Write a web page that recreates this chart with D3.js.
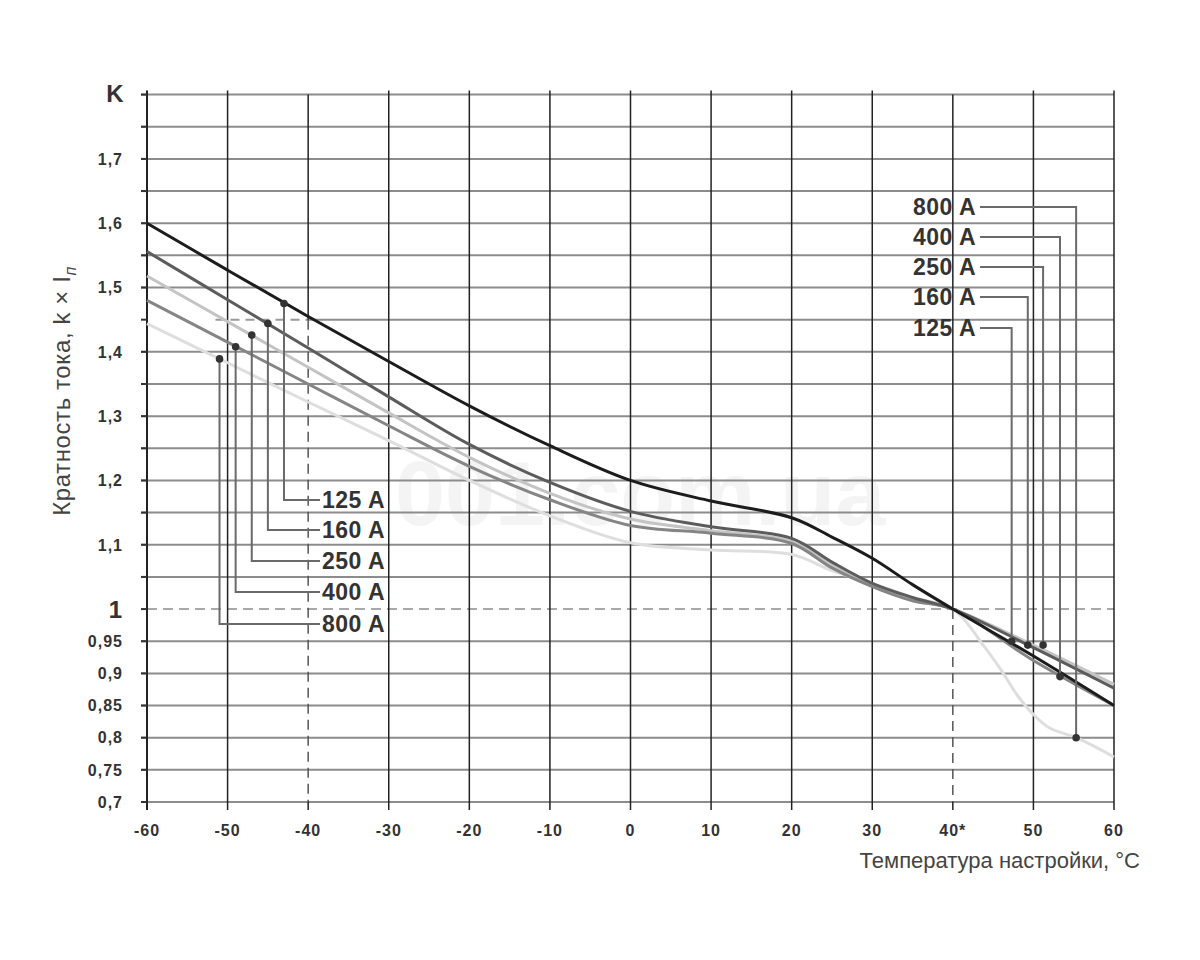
<!DOCTYPE html>
<html>
<head>
<meta charset="utf-8">
<script src="https://cdn.jsdelivr.net/npm/d3@7"></script>
<style>
  body { margin: 0; background: #fff; }
  text { font-family: "Liberation Sans", Arial, sans-serif; }
</style>
</head>
<body>
<script>
// data
var names = ["125 A", "160 A", "250 A", "400 A", "800 A"];
var temps = [-60, -50, -40, -30, -20, -10, 0, 10, 20, 25, 30, 35, 40, 50, 60];
var v125 = [1.6, 1.527, 1.455, 1.385, 1.316, 1.254, 1.2, 1.168, 1.142, 1.112, 1.079, 1.038, 1.0, 0.927, 0.85];
var v160 = [1.556, 1.481, 1.406, 1.33, 1.256, 1.197, 1.152, 1.128, 1.11, 1.073, 1.04, 1.018, 1.0, 0.94, 0.877];
var v250 = [1.518, 1.447, 1.376, 1.305, 1.236, 1.18, 1.14, 1.122, 1.105, 1.068, 1.037, 1.015, 1.0, 0.944, 0.883];
var v400 = [1.48, 1.415, 1.35, 1.285, 1.222, 1.17, 1.13, 1.118, 1.102, 1.064, 1.035, 1.013, 1.0, 0.92, 0.85];
var temps800 = [-60, -50, -40, -30, -20, -10, 0, 10, 20, 25, 30, 35, 40, 44, 46, 48, 50, 52, 55.3, 60];
var v800 = [1.444, 1.383, 1.322, 1.262, 1.2, 1.145, 1.103, 1.092, 1.085, 1.06, 1.04, 1.018, 1.0, 0.94, 0.905, 0.866, 0.836, 0.815, 0.8, 0.77];
var leftDotT = [-43, -45, -47, -49, -51];
var leftDotV = [1.475, 1.444, 1.426, 1.408, 1.389];
var rightDotT = [47.3, 49.3, 51.2, 53.3, 55.3];
var rightDotV = [0.95, 0.944, 0.944, 0.895, 0.8];
var xTicks = [-60, -50, -40, -30, -20, -10, 0, 10, 20, 30, 40, 50, 60];
var xLabels = ["-60", "-50", "-40", "-30", "-20", "-10", "0", "10", "20", "30", "40*", "50", "60"];
var yLabelVals = [1.7, 1.6, 1.5, 1.4, 1.3, 1.2, 1.1, 1.0, 0.95, 0.9, 0.85, 0.8, 0.75, 0.7];
var yLabels = ["1,7", "1,6", "1,5", "1,4", "1,3", "1,2", "1,1", "1", "0,95", "0,9", "0,85", "0,8", "0,75", "0,7"];

var colors = ["#1c1c1c", "#5c5c5c", "#c4c4c4", "#858585", "#dedede"];

var svg = d3.select("body").append("svg")
    .attr("width", 1200)
    .attr("height", 960);

var x = d3.scaleLinear().domain([-60, 60]).range([147, 1114]);
var y = d3.scaleLinear().domain([0.7, 1.8]).range([802, 94.6]);

// watermark
svg.append("text")
    .attr("x", 395).attr("y", 525)
    .attr("font-size", 90)
    .attr("font-weight", "bold")
    .style("font-family", "'Liberation Sans', Arial, sans-serif")
    .attr("fill", "#f4f4f4")
    .text("001.com.ua");

// horizontal grid every 0.05
var hGrid = d3.range(0, 23).map(function (i) { return +(0.7 + i * 0.05).toFixed(2); });
svg.append("g").selectAll("line")
    .data(hGrid.filter(function (d) { return d !== 1.0 && d !== 1.45; }))
    .enter().append("line")
    .attr("x1", x(-60) - 6).attr("x2", x(60))
    .attr("y1", function (d) { return y(d); })
    .attr("y2", function (d) { return y(d); })
    .attr("stroke", "#8c8c8c")
    .attr("stroke-width", 2);

// 1.45 line: dashed part up to -40, solid after
svg.append("line")
    .attr("x1", x(-51.5)).attr("x2", x(-40))
    .attr("y1", y(1.45)).attr("y2", y(1.45))
    .attr("stroke", "#9a9a9a").attr("stroke-width", 2)
    .attr("stroke-dasharray", "9,6");
svg.append("line")
    .attr("x1", x(-40)).attr("x2", x(60))
    .attr("y1", y(1.45)).attr("y2", y(1.45))
    .attr("stroke", "#8c8c8c").attr("stroke-width", 2);

// 1.0 dashed
svg.append("line")
    .attr("x1", x(-60)).attr("x2", x(60))
    .attr("y1", y(1.0)).attr("y2", y(1.0))
    .attr("stroke", "#a8a8a8").attr("stroke-width", 2)
    .attr("stroke-dasharray", "10,6");

// vertical grid
svg.append("g").selectAll("line")
    .data(xTicks.filter(function (d) { return d !== -40 && d !== 40; }))
    .enter().append("line")
    .attr("x1", function (d) { return x(d); })
    .attr("x2", function (d) { return x(d); })
    .attr("y1", y(1.8) - 4).attr("y2", y(0.7) + 8)
    .attr("stroke", "#222")
    .attr("stroke-width", function (d) { return d === -60 ? 2 : 1.5; });

// -40 and 40: solid on top, dashed below the marker level
[[-40, 1.45], [40, 1.0]].forEach(function (p) {
    svg.append("line")
        .attr("x1", x(p[0])).attr("x2", x(p[0]))
        .attr("y1", y(1.8)).attr("y2", y(p[1]))
        .attr("stroke", "#222").attr("stroke-width", 1.5);
    svg.append("line")
        .attr("x1", x(p[0])).attr("x2", x(p[0]))
        .attr("y1", y(p[1])).attr("y2", y(0.7))
        .attr("stroke", "#555").attr("stroke-width", 1.5)
        .attr("stroke-dasharray", "10,6");
    svg.append("line")
        .attr("x1", x(p[0])).attr("x2", x(p[0]))
        .attr("y1", y(0.7)).attr("y2", y(0.7) + 8)
        .attr("stroke", "#222").attr("stroke-width", 1.5);
});

// left ticks (dark)
svg.append("g").selectAll("line")
    .data(hGrid)
    .enter().append("line")
    .attr("x1", x(-60) - 6).attr("x2", x(-60))
    .attr("y1", function (d) { return y(d); })
    .attr("y2", function (d) { return y(d); })
    .attr("stroke", "#333").attr("stroke-width", 2);

// y labels
svg.append("g").selectAll("text")
    .data(yLabelVals)
    .enter().append("text")
    .attr("x", 123)
    .attr("y", function (d) { return y(d); })
    .attr("dy", "0.36em")
    .attr("text-anchor", "end")
    .attr("font-weight", "bold")
    .attr("font-size", function (d) { return d === 1.0 ? 24 : 16; })
    .attr("letter-spacing", 1)
    .attr("fill", "#333")
    .text(function (d, i) { return yLabels[i]; });

svg.append("text")
    .attr("x", 115).attr("y", 102)
    .attr("text-anchor", "middle")
    .attr("font-weight", "bold")
    .attr("font-size", 24)
    .attr("fill", "#333")
    .text("K");

// x labels
svg.append("g").selectAll("text")
    .data(xTicks)
    .enter().append("text")
    .attr("x", function (d) { return x(d); })
    .attr("y", 836)
    .attr("text-anchor", "middle")
    .attr("font-weight", "bold")
    .attr("font-size", 16)
    .attr("letter-spacing", 1)
    .attr("fill", "#333")
    .text(function (d, i) { return xLabels[i]; });

// axis titles
svg.append("text")
    .attr("x", 1140).attr("y", 868)
    .attr("text-anchor", "end")
    .attr("font-size", 22)
    .attr("fill", "#444")
    .text("Температура настройки, °С");

var yt = svg.append("text")
    .attr("transform", "translate(70,391) rotate(-90)")
    .attr("text-anchor", "middle")
    .attr("font-size", 24)
    .attr("letter-spacing", 0.6)
    .attr("fill", "#444");
yt.append("tspan").text("Кратность тока,  k × I");
yt.append("tspan").attr("font-size", 16).attr("font-style", "italic").attr("dy", 6).text("п");

// curves
var line = d3.line()
    .x(function (d) { return x(d[0]); })
    .y(function (d) { return y(d[1]); })
    .curve(d3.curveCatmullRom.alpha(0.5));

var series = [
    d3.zip(temps, v125),
    d3.zip(temps, v160),
    d3.zip(temps, v250),
    d3.zip(temps, v400),
    d3.zip(temps800, v800)
];

[4, 2, 3, 1, 0].forEach(function (i) {
    svg.append("path")
        .datum(series[i])
        .attr("fill", "none")
        .attr("stroke", colors[i])
        .attr("stroke-width", 3)
        .attr("d", line);
});

// legends with leaders
var leftRowY = [500, 530, 561, 592, 624];
var rightRowY = [328, 297, 267, 237, 207];
var leaderColor = "#6a6a6a";

names.forEach(function (n, i) {
    var dx = x(leftDotT[i]), dy = y(leftDotV[i]);
    svg.append("path")
        .attr("d", "M" + dx + "," + dy + "V" + leftRowY[i] + "H320")
        .attr("fill", "none")
        .attr("stroke", leaderColor).attr("stroke-width", 2);
    svg.append("circle")
        .attr("cx", dx).attr("cy", dy).attr("r", 3.8)
        .attr("fill", "#333");
    svg.append("text")
        .attr("x", 322).attr("y", leftRowY[i])
        .attr("dy", "0.36em")
        .attr("font-weight", "bold")
        .attr("font-size", 23)
        .attr("letter-spacing", 0.5)
        .attr("fill", "#333")
        .text(n);

    var rx = x(rightDotT[i]), ry = y(rightDotV[i]);
    svg.append("path")
        .attr("d", "M980," + rightRowY[i] + "H" + rx + "V" + ry)
        .attr("fill", "none")
        .attr("stroke", leaderColor).attr("stroke-width", 2);
    svg.append("circle")
        .attr("cx", rx).attr("cy", ry).attr("r", 3.8)
        .attr("fill", "#333");
    svg.append("text")
        .attr("x", 976).attr("y", rightRowY[i])
        .attr("dy", "0.36em")
        .attr("text-anchor", "end")
        .attr("font-weight", "bold")
        .attr("font-size", 23)
        .attr("letter-spacing", 0.5)
        .attr("fill", "#333")
        .text(n);
});
</script>
</body>
</html>
